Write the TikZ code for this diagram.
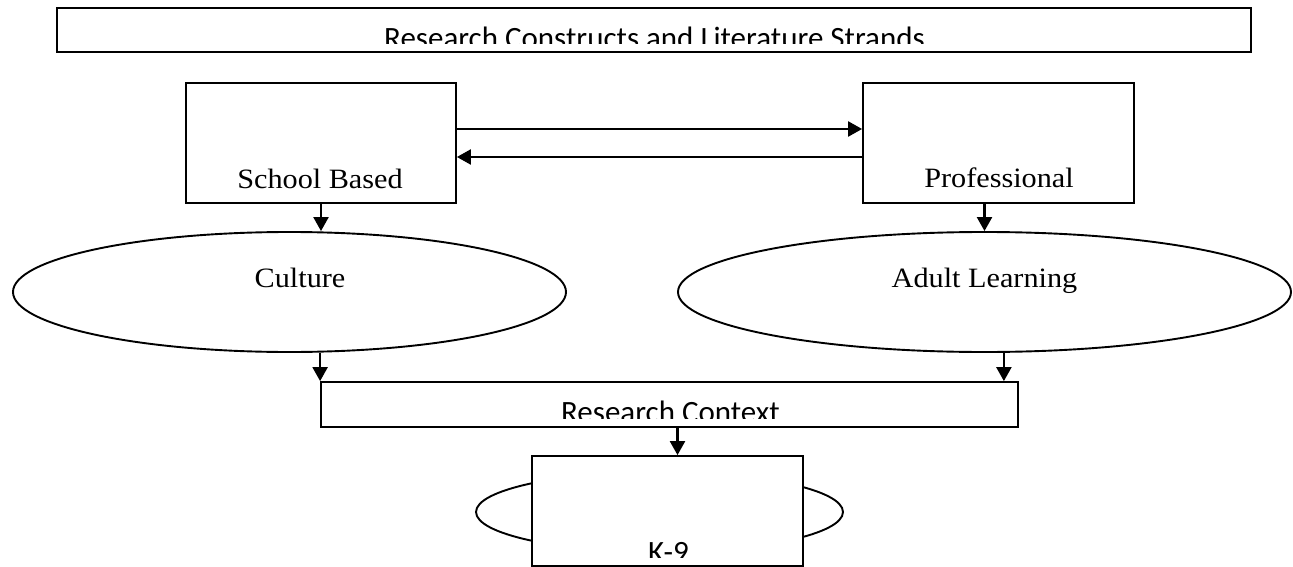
\documentclass[tikz,border=0pt]{standalone}
\usepackage{fontspec}
\setmainfont{Liberation Serif}
\newfontfamily\serifw[FakeStretch=1.08]{Liberation Serif}
\newfontfamily\calfont{Carlito}
\usetikzlibrary{arrows.meta,shapes.geometric}
\begin{document}
\begin{tikzpicture}[x=1pt,y=-1pt,
  boxsh/.style={draw,line width=1.8pt,fill=white,inner sep=0pt,rectangle},
  ellsh/.style={draw,line width=1.9pt,fill=white,inner sep=0pt,ellipse},
  arr/.style={line width=2.3pt,-{Triangle[length=14pt,width=15pt]}},
  sertext/.style={anchor=base,inner sep=0pt,font=\serifw\fontsize{28}{28}\selectfont},
  caltext/.style={anchor=base,inner sep=0pt,font=\calfont\fontsize{31}{31}\selectfont}]
\useasboundingbox (0,0) rectangle (1293,567);
\fill[white] (0,0) rectangle (1293,567);

% title
\node[boxsh,minimum width=1194pt,minimum height=44pt] (title) at (654,30) {};
\begin{scope}
  \clip (57,8) rectangle (1251,44);
  \node[caltext] (titletext) at (654.5,49) {Research Constructs and Literature Strands};
\end{scope}

% boxes
\node[boxsh,minimum width=270pt,minimum height=120pt] (sb) at (321,143) {};
\node[boxsh,minimum width=271pt,minimum height=120pt] (pr) at (998.5,143) {};
\node[sertext] (sbt) at (320,188) {School Based};
\node[sertext] (prt) at (999,187) {Professional};

% ellipses
\node[ellsh,minimum width=553pt,minimum height=120pt] (cul) at (289.5,292) {};
\node[ellsh,minimum width=613pt,minimum height=120pt] (adl) at (984.5,292) {};
\node[sertext] (cult) at (300,287) {Culture};
\node[sertext] (adlt) at (984.5,287) {Adult Learning};

% research context
\node[boxsh,minimum width=697pt,minimum height=45pt] (rc) at (669.5,404.5) {};
\begin{scope}
  \clip (321,382) rectangle (1018,418);
  \node[caltext] (rct) at (670.5,422) {Research Context};
\end{scope}

% K-9
\node[ellsh,minimum width=367pt,minimum height=80pt] (k9e) at (659.5,512) {};
\node[boxsh,minimum width=271pt,minimum height=110pt] (k9) at (667.5,511) {};
\begin{scope}
  \clip (532,456) rectangle (803,557);
  \node[caltext] (k9t) at (668.5,562) {K-9};
\end{scope}

% connectors
\draw[arr] ([yshift=14pt]sb.east) -- ([yshift=14pt]pr.west);
\draw[arr] ([yshift=-14pt]pr.west) -- ([yshift=-14pt]sb.east);
\draw[arr] (sb.south) -- (sb.south |- cul.north);
\draw[arr] (pr.south -| adl.north) -- (adl.north);
\draw[arr] (cul.south -| rc.north west) -- (rc.north west);
\coordinate (rcR) at ([xshift=-15pt]rc.north east);
\draw[arr] (adl.south -| rcR) -- (rcR);
\coordinate (rcB) at ([xshift=8pt]rc.south);
\draw[arr] (rcB) -- (rcB |- k9.north);
\end{tikzpicture}
\end{document}
